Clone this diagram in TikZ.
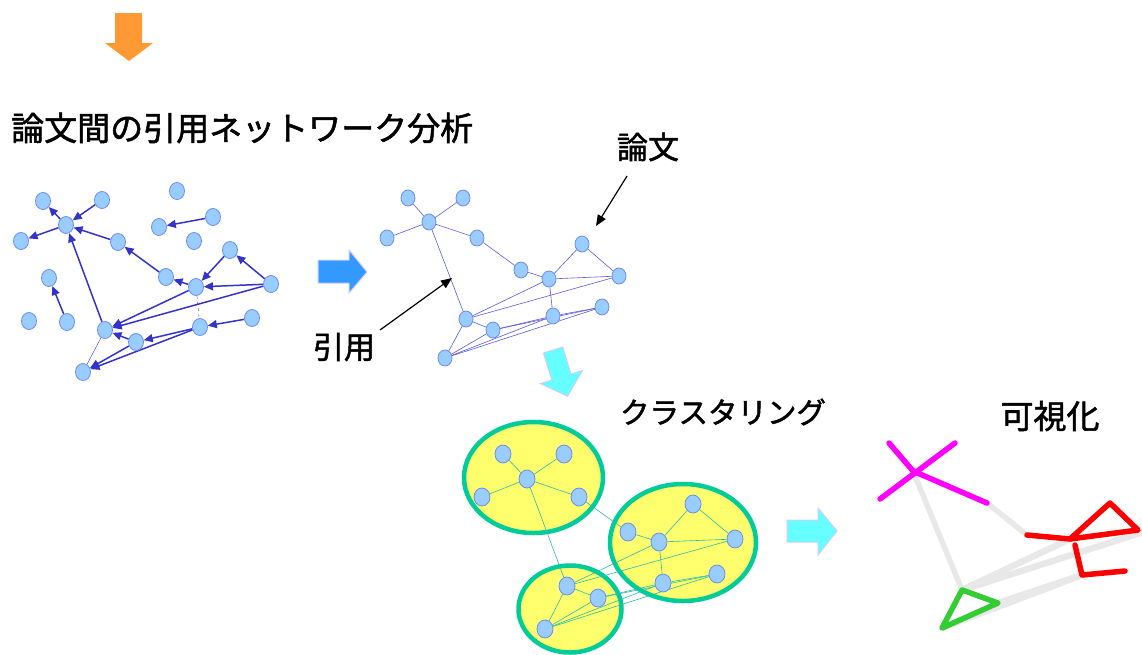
\documentclass[tikz,border=0pt]{standalone}
\usepackage{fontspec}
\newfontfamily\jp[FakeBold=1.6,AutoFakeBold=1.6]{Noto Sans CJK JP}
\usetikzlibrary{arrows.meta,shapes.geometric}
\definecolor{nodefill}{RGB}{153,204,255}
\definecolor{nodedraw}{RGB}{110,140,240}
\definecolor{arrowblue}{RGB}{51,51,204}
\definecolor{thinblue}{RGB}{90,90,225}
\definecolor{clteal}{RGB}{0,204,153}
\definecolor{edgeteal}{RGB}{40,190,170}
\definecolor{clyellow}{RGB}{255,255,110}
\definecolor{orangearrow}{RGB}{255,153,51}
\definecolor{bluearrow}{RGB}{51,153,255}
\definecolor{cyanarrow}{RGB}{102,255,255}
\definecolor{lavender}{RGB}{204,204,255}
\definecolor{vgray}{RGB}{232,232,232}
\definecolor{vmagenta}{RGB}{255,0,255}
\definecolor{vred}{RGB}{255,0,0}
\definecolor{vgreen}{RGB}{51,204,51}
\pgfdeclarelayer{bg}
\pgfdeclarelayer{edges}
\pgfsetlayers{bg,edges,main}
\tikzset{
  gnode/.style={ellipse,fill=nodefill,draw=nodedraw,line width=0.8pt,minimum width=15pt,minimum height=17pt,inner sep=0pt},
  hnode/.style={gnode,minimum width=14pt,minimum height=16pt},
  cite/.style={draw=arrowblue,line width=1.5pt,-{Triangle[length=9pt,width=8pt]}},
  plain/.style={draw=arrowblue,line width=0.4pt},
  thin/.style={draw=thinblue,line width=0.6pt},
  cledge/.style={draw=edgeteal,line width=0.6pt},
  cluster/.style={ellipse,fill=clyellow,draw=clteal,line width=4.5pt,inner sep=0pt},
  label/.style={font=\jp\fontsize{31}{36}\selectfont,inner sep=0pt},
  pointer/.style={draw=black,line width=1.2pt,-{Triangle[length=11pt,width=9pt]}},
  blockarrow/.style={line width=1pt,draw=lavender,line join=miter},
  vis/.style={line width=5.5pt,line cap=round,line join=round},
  visband/.style={line width=6.5pt,line cap=round,line join=round},
}
\begin{document}
\begin{tikzpicture}[x=1pt,y=-1pt]
\useasboundingbox (0,0) rectangle (1142,654);
% block arrows
\fill[orangearrow] (115,13) -- (142,13) -- (142,43) -- (153,43) -- (129,61) -- (105,43) -- (115,43) -- cycle;
\filldraw[blockarrow,fill=bluearrow] (318,260) -- (349,260) -- (349,250) -- (367,272) -- (349,293) -- (349,283) -- (318,283) -- cycle;
\filldraw[blockarrow,fill=cyanarrow] (543.4,353.0) -- (562.6,347.0) -- (571.0,374.1) -- (582.4,370.6) -- (567.5,396.2) -- (540.4,383.6) -- (551.9,380.1) -- cycle;
\filldraw[blockarrow,fill=cyanarrow] (787,520) -- (818,520) -- (818,508) -- (837,531) -- (818,555) -- (818,542) -- (787,542) -- cycle;
% titles
\node[label,anchor=west,font=\jp\fontsize{33}{38}\selectfont] (title) at (11,128) {論文間の引用ネットワーク分析};
\node[label] (ronbun) at (648,147) {論文};
\node[label] (inyou) at (344,347) {引用};
\node[label,font=\jp\fontsize{29.5}{34}\selectfont] (clus) at (723,412) {クラスタリング};
\node[label,font=\jp\fontsize{33}{38}\selectfont] (kashika) at (1050,416) {可視化};
% graph 1
\node[gnode] (A) at (43,201) {};
\node[gnode] (B) at (102,200) {};
\node[gnode] (C) at (177,191) {};
\node[gnode] (D) at (66,225) {};
\node[gnode] (E) at (213,217) {};
\node[gnode] (F) at (159,227) {};
\node[gnode] (G) at (21,241) {};
\node[gnode] (H) at (118,242) {};
\node[gnode] (I) at (194,241) {};
\node[gnode] (J) at (230,250) {};
\node[gnode] (K) at (49,278) {};
\node[gnode] (L) at (166,277) {};
\node[gnode] (M) at (196,287) {};
\node[gnode] (N) at (271,284) {};
\node[gnode] (O) at (29,321) {};
\node[gnode] (P) at (67,322) {};
\node[gnode] (Q) at (252,318) {};
\node[gnode] (R) at (200,327) {};
\node[gnode] (S) at (105,330) {};
\node[gnode] (T) at (136,342) {};
\node[gnode] (U) at (83,372) {};
\begin{pgfonlayer}{edges}
\draw[cite] (D) -- (A);
\draw[cite] (B) -- (D);
\draw[cite] (D) -- (G);
\draw[cite] (H) -- (D);
\draw[cite] (E) -- (F);
\draw[cite] (L) -- (H);
\draw[cite] (M) -- (L);
\draw[cite] (J) -- (M);
\draw[cite] (N) -- (J);
\draw[cite] (N) -- (M);
\draw[cite] (S) -- (D);
\draw[cite] (P) -- (K);
\draw[cite] (M) -- (S);
\draw[cite] (N) -- (S);
\draw[cite] (Q) -- (R);
\draw[cite] (R) -- (T);
\draw[cite] (T) -- (S);
\draw[cite] (R) -- (U);
\draw[cite] (T) -- (U);
\draw[plain] (U) -- (S);
\draw[plain,dashed] (M) -- (R);
\end{pgfonlayer}
% graph 2
\node[hnode] (a) at (408,198) {};
\node[hnode] (b) at (463,198) {};
\node[hnode] (c) at (429,222) {};
\node[hnode] (d) at (387,238) {};
\node[hnode] (e) at (477,238) {};
\node[hnode] (f) at (582,244) {};
\node[hnode] (g) at (521,270) {};
\node[hnode] (h) at (549,279) {};
\node[hnode] (i) at (619,276) {};
\node[hnode] (j) at (602,307) {};
\node[hnode] (k) at (466,319) {};
\node[hnode] (l) at (553,316) {};
\node[hnode] (m) at (493,330) {};
\node[hnode] (n) at (445,358) {};
\begin{pgfonlayer}{edges}
\foreach \u/\v in {a/c,b/c,c/d,c/e,e/g,g/h,h/f,f/i,h/i,c/k,k/h,k/i,h/l,l/j,k/m,m/l,m/j,k/n,n/m,n/l,n/j}
  \draw[thin] (\u) -- (\v);
\end{pgfonlayer}
% clusters
\begin{pgfonlayer}{bg}
\node[cluster,minimum width=139pt,minimum height=111pt] (cl1) at (533.5,477.5) {};
\node[cluster,minimum width=146pt,minimum height=117pt] (cl2) at (683,542.5) {};
\node[cluster,minimum width=103pt,minimum height=87pt] (cl3) at (570,609) {};
\end{pgfonlayer}
\node[gnode,minimum width=16pt,minimum height=18pt] (c1) at (503,454) {};
\node[gnode,minimum width=16pt,minimum height=18pt] (c2) at (564,454) {};
\node[gnode,minimum width=16pt,minimum height=18pt] (c3) at (527,479) {};
\node[gnode,minimum width=16pt,minimum height=18pt] (c4) at (482,497) {};
\node[gnode,minimum width=16pt,minimum height=18pt] (c5) at (579,497) {};
\node[gnode,minimum width=16pt,minimum height=18pt] (c6) at (693,504) {};
\node[gnode,minimum width=16pt,minimum height=18pt] (c7) at (628,532) {};
\node[gnode,minimum width=16pt,minimum height=18pt] (c8) at (659,542) {};
\node[gnode,minimum width=16pt,minimum height=18pt] (c9) at (735,539) {};
\node[gnode,minimum width=16pt,minimum height=18pt] (c10) at (717,574) {};
\node[gnode,minimum width=16pt,minimum height=18pt] (c11) at (663,583) {};
\node[gnode,minimum width=16pt,minimum height=18pt] (c12) at (567,586) {};
\node[gnode,minimum width=16pt,minimum height=18pt] (c13) at (598,598) {};
\node[gnode,minimum width=16pt,minimum height=18pt] (c14) at (545,629) {};
\begin{pgfonlayer}{edges}
\foreach \u/\v in {c3/c1,c3/c2,c3/c4,c3/c5,c5/c7,c7/c8,c8/c6,c6/c9,c8/c9,c3/c12,c8/c11,c11/c10,c12/c8,c12/c9,c12/c13,c14/c12,c14/c13,c14/c11,c14/c10,c13/c11,c13/c10}
  \draw[cledge] (\u) -- (\v);
\end{pgfonlayer}
% pointers
\coordinate (p1s) at (627,176);
\coordinate (p1e) at (596,226);
\coordinate (p2s) at (380,330);
\coordinate (p2e) at (452,278);
\draw[pointer] (p1s) -- (p1e);
\draw[pointer] (p2s) -- (p2e);
% visualization
\coordinate (x1) at (889,443);
\coordinate (x0) at (913,471);
\coordinate (x2) at (955,443);
\coordinate (x3) at (880,499);
\coordinate (x4) at (987,503);
\coordinate (r0) at (1027,535);
\coordinate (r1) at (1070,539);
\coordinate (r2) at (1110,503);
\coordinate (r3) at (1138,530);
\coordinate (r4) at (1075,545);
\coordinate (r5) at (1082,575);
\coordinate (r6) at (1125,571);
\coordinate (gr1) at (962,590);
\coordinate (gr2) at (998,603);
\coordinate (gr3) at (942,628);
\coordinate (e1) at (1140,533);
\draw[vis,vgray] (x4) -- (r0);
\draw[vis,vgray] (x0) -- (gr1);
\draw[visband,vgray] (gr1) -- (r1);
\draw[visband,vgray] (gr1) -- (e1);
\draw[visband,vgray] (gr2) -- (r5);
\draw[visband,vgray] (gr3) -- (r5);
\draw[vis,vmagenta] (x1) -- (x0);
\draw[vis,vmagenta] (x2) -- (x3);
\draw[vis,vmagenta] (x0) -- (x4);
\draw[vis,vred] (r0) -- (r1);
\draw[vis,vred] (r1) -- (r2) -- (r3) -- cycle;
\draw[vis,vred] (r4) -- (r5) -- (r6);
\draw[vis,vgreen] (gr1) -- (gr2) -- (gr3) -- cycle;
\end{tikzpicture}
\end{document}
